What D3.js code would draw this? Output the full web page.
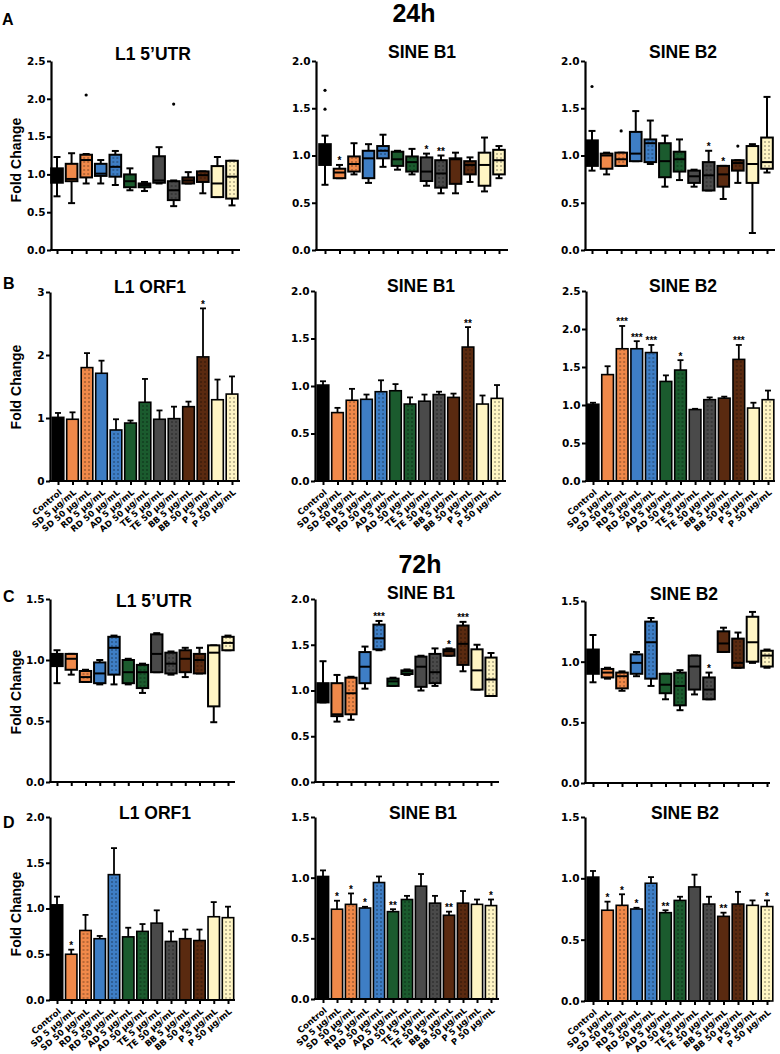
<!DOCTYPE html>
<html>
<head>
<meta charset="utf-8">
<script src="https://cdn.jsdelivr.net/npm/d3@7"></script>
<style>
  body { margin: 0; background: #fff; }
  svg text { fill: #000; }
</style>
</head>
<body>
<svg id="fig" width="780" height="1054"></svg>
<script>
// ---------- data ----------
const categories = ["Control", "SD 5 µg/mL", "SD 50 µg/mL", "RD 5 µg/mL", "RD 50 µg/mL",
  "AD 5 µg/mL", "AD 50 µg/mL", "TE 5 µg/mL", "TE 50 µg/mL", "BB 5 µg/mL", "BB 50 µg/mL",
  "P 5 µg/mL", "P 50 µg/mL"];

// box rows: [min, q1, median, q3, max]
const a1Box = [[0.71,0.89,0.97,1.08,1.23],[0.62,0.91,0.94,1.14,1.28],[0.88,0.96,1.19,1.26,1.27],
  [0.88,0.98,1.01,1.14,1.19],[0.86,0.97,1.10,1.26,1.31],[0.79,0.83,0.91,1.00,1.08],
  [0.78,0.83,0.86,0.88,0.90],[0.88,0.89,0.92,1.24,1.36],[0.58,0.66,0.79,0.91,0.92],
  [0.88,0.88,0.92,0.96,1.03],[0.75,0.90,0.99,1.04,1.04],[0.70,0.70,0.88,1.11,1.23],
  [0.59,0.68,0.97,1.18,1.18]];
const a1Out = [[2, 2.05], [8, 1.93]];
const a1Stars = ["","","","","","","","","","","","",""];

const a2Box = [[0.69,0.90,1.00,1.12,1.21],[0.76,0.76,0.82,0.86,0.90],[0.80,0.83,0.91,0.99,1.13],
  [0.71,0.76,0.97,1.05,1.12],[0.88,0.97,1.05,1.10,1.22],[0.85,0.89,0.96,1.04,1.05],
  [0.80,0.83,0.93,0.99,1.07],[0.68,0.73,0.83,0.98,1.02],[0.60,0.66,0.81,0.95,1.00],
  [0.60,0.70,0.96,0.97,1.03],[0.72,0.80,0.90,0.94,0.98],[0.62,0.68,0.90,1.03,1.19],
  [0.76,0.80,0.95,1.06,1.10]];
const a2Out = [[0, 1.69], [0, 1.49]];
const a2Stars = ["","*","","","","","","*","**","","","",""];

const a3Box = [[0.84,0.89,1.02,1.16,1.26],[0.80,0.86,1.00,1.02,1.03],[0.89,0.89,0.96,1.03,1.03],
  [0.94,0.94,1.02,1.25,1.47],[0.91,0.93,1.13,1.17,1.37],[0.67,0.77,0.94,1.13,1.21],
  [0.74,0.83,0.96,1.04,1.17],[0.67,0.71,0.78,0.84,0.85],[0.63,0.63,0.79,0.93,1.05],
  [0.54,0.67,0.80,0.89,0.89],[0.71,0.84,0.92,0.95,0.95],[0.18,0.71,0.91,1.10,1.12],
  [0.82,0.86,0.93,1.19,1.62]];
const a3Out = [[0, 1.73], [2, 1.26], [10, 1.10]];
const a3Stars = ["","","","","","","","","*","*","","",""];

// bar rows: mean and SEM
const b1Mean = [1.01,0.98,1.80,1.71,0.81,0.92,1.25,0.98,0.99,1.18,1.97,1.29,1.38];
const b1Sem  = [0.07,0.11,0.23,0.20,0.17,0.04,0.37,0.14,0.19,0.08,0.77,0.32,0.28];
const b1Stars = ["","","","","","","","","","","*","",""];

const b2Mean = [1.01,0.72,0.85,0.86,0.94,0.95,0.81,0.84,0.91,0.88,1.41,0.81,0.87];
const b2Sem  = [0.04,0.05,0.12,0.05,0.12,0.07,0.07,0.07,0.03,0.04,0.21,0.09,0.14];
const b2Stars = ["","","","","","","","","","","**","",""];

const b3Mean = [1.01,1.40,1.74,1.74,1.69,1.31,1.46,0.94,1.07,1.09,1.60,0.96,1.07];
const b3Sem  = [0.02,0.11,0.30,0.10,0.10,0.08,0.13,0.01,0.03,0.02,0.19,0.07,0.12];
const b3Stars = ["","","***","***","***","","*","","","","***","",""];

const c1Box = [[0.81,0.95,1.01,1.05,1.08],[0.88,0.92,1.01,1.05,1.05],[0.82,0.82,0.86,0.91,0.92],
  [0.80,0.81,0.89,0.98,1.00],[0.80,0.88,1.10,1.19,1.20],[0.80,0.81,0.90,1.00,1.01],
  [0.73,0.77,0.90,0.96,0.97],[0.90,0.90,1.05,1.21,1.22],[0.88,0.89,0.97,1.06,1.07],
  [0.86,0.90,1.01,1.08,1.10],[0.89,0.89,1.00,1.05,1.10],[0.49,0.62,1.06,1.12,1.12],
  [1.08,1.08,1.14,1.19,1.20]];
const c1Out = [];
const c1Stars = ["","","","","","","","","","","","",""];

const c2Box = [[0.87,0.87,0.97,1.08,1.32],[0.66,0.72,0.74,1.08,1.17],[0.68,0.74,0.97,1.14,1.15],
  [1.02,1.08,1.26,1.42,1.48],[1.44,1.45,1.57,1.72,1.76],[1.05,1.05,1.10,1.13,1.14],
  [1.17,1.18,1.21,1.22,1.23],[1.00,1.04,1.26,1.37,1.38],[1.05,1.08,1.20,1.40,1.46],
  [1.38,1.38,1.43,1.45,1.46],[1.21,1.28,1.51,1.71,1.75],[1.01,1.01,1.22,1.45,1.50],
  [0.94,0.94,1.12,1.36,1.41]];
const c2Out = [];
const c2Stars = ["","","","","***","","","","","*","***","",""];

const c3Box = [[0.83,0.90,1.04,1.10,1.22],[0.86,0.87,0.91,0.94,0.95],[0.76,0.78,0.88,0.91,0.92],
  [0.88,0.90,0.99,1.06,1.08],[0.80,0.86,1.16,1.33,1.36],[0.69,0.74,0.81,0.90,0.90],
  [0.60,0.64,0.80,0.91,0.93],[0.73,0.77,0.96,1.05,1.05],[0.69,0.69,0.77,0.87,0.91],
  [1.08,1.08,1.15,1.25,1.28],[0.95,0.95,0.99,1.19,1.24],[0.99,1.00,1.16,1.37,1.41],
  [0.95,0.96,1.05,1.09,1.10]];
const c3Out = [];
const c3Stars = ["","","","","","","","","*","","","",""];

const d1Mean = [1.04,0.50,0.76,0.67,1.37,0.69,0.75,0.84,0.64,0.67,0.65,0.91,0.90];
const d1Sem  = [0.09,0.05,0.17,0.03,0.29,0.10,0.08,0.14,0.11,0.10,0.12,0.16,0.12];
const d1Stars = ["","*","","","","","","","","","","",""];

const d2Mean = [1.01,0.74,0.78,0.75,0.96,0.72,0.82,0.93,0.79,0.69,0.79,0.78,0.77];
const d2Sem  = [0.05,0.07,0.09,0.01,0.05,0.02,0.03,0.10,0.06,0.03,0.10,0.04,0.05];
const d2Stars = ["","*","*","*","","**","","","","**","","","*"];

const d3Mean = [1.01,0.74,0.78,0.75,0.96,0.72,0.82,0.93,0.79,0.69,0.79,0.78,0.77];
const d3Sem  = [0.05,0.07,0.09,0.01,0.05,0.02,0.03,0.10,0.06,0.03,0.10,0.04,0.05];
const d3Stars = ["","*","*","*","","**","","","","**","","","*"];

// ---------- styles ----------
const fillColor = ["#000000","#F0894A","#F0894A","#3E7EC5","#3E7EC5","#1B5B2E","#1B5B2E",
  "#4A4A4A","#4A4A4A","#5A2A10","#5A2A10","#FFF5C4","#FFF5C4"];
const dotted = categories.map(c => c.indexOf(" 50 ") > 0);

const FONT = "'Liberation Sans', Arial, sans-serif";
const NUMFONT = "'DejaVu Sans', sans-serif";

const svg = d3.select("#fig");

svg.append("defs").append("pattern")
    .attr("id", "dots")
    .attr("width", 4)
    .attr("height", 4)
    .attr("patternUnits", "userSpaceOnUse")
  .append("circle")
    .attr("cx", 2)
    .attr("cy", 2)
    .attr("r", 0.8)
    .attr("fill", "rgba(0,0,0,0.55)");

// panel layout
const panels = [
  {type:"box", box:a1Box, out:a1Out, stars:a1Stars, max:2.5, step:0.5, title:"L1 5’UTR",
   ax:51, xa:57, xb:232, xe:240, y0:250, yt:61, tx:153, ty:60, labels:false},
  {type:"box", box:a2Box, out:a2Out, stars:a2Stars, max:2.0, step:0.5, title:"SINE B1",
   ax:316, xa:325, xb:499, xe:508, y0:250, yt:61, tx:422, ty:58, labels:false},
  {type:"box", box:a3Box, out:a3Out, stars:a3Stars, max:2.0, step:0.5, title:"SINE B2",
   ax:585, xa:592, xb:767, xe:775, y0:250, yt:61, tx:683, ty:58, labels:false},

  {type:"bar", mean:b1Mean, sem:b1Sem, stars:b1Stars, max:3, step:1, title:"L1 ORF1",
   ax:50, xa:58, xb:232, xe:240, y0:481, yt:292, tx:150, ty:293, labels:true},
  {type:"bar", mean:b2Mean, sem:b2Sem, stars:b2Stars, max:2.0, step:0.5, title:"SINE B1",
   ax:315, xa:323, xb:497, xe:506, y0:481, yt:291, tx:421, ty:292, labels:true},
  {type:"bar", mean:b3Mean, sem:b3Sem, stars:b3Stars, max:2.5, step:0.5, title:"SINE B2",
   ax:586, xa:593, xb:768, xe:775, y0:481, yt:291, tx:683, ty:292, labels:true},

  {type:"box", box:c1Box, out:c1Out, stars:c1Stars, max:1.5, step:0.5, title:"L1 5’UTR",
   ax:50, xa:57, xb:228, xe:235, y0:782, yt:599, tx:154, ty:607, labels:false},
  {type:"box", box:c2Box, out:c2Out, stars:c2Stars, max:2.0, step:0.5, title:"SINE B1",
   ax:315, xa:323, xb:491, xe:499, y0:782, yt:599, tx:421, ty:599, labels:false},
  {type:"box", box:c3Box, out:c3Out, stars:c3Stars, max:1.5, step:0.5, title:"SINE B2",
   ax:585, xa:593, xb:767, xe:770, y0:783, yt:601, tx:684, ty:600, labels:false},

  {type:"bar", mean:d1Mean, sem:d1Sem, stars:d1Stars, max:2.0, step:0.5, title:"L1 ORF1",
   ax:50, xa:57, xb:228, xe:235, y0:1000, yt:817, tx:155, ty:819, labels:true},
  {type:"bar", mean:d2Mean, sem:d2Sem, stars:d2Stars, max:1.5, step:0.5, title:"SINE B1",
   ax:315, xa:323, xb:491, xe:499, y0:999, yt:817, tx:423, ty:819, labels:true},
  {type:"bar", mean:d3Mean, sem:d3Sem, stars:d3Stars, max:1.5, step:0.5, title:"SINE B2",
   ax:585, xa:593, xb:767, xe:770, y0:1001, yt:817, tx:685, ty:819, labels:true}
];

function drawPanel(p){
    const g = svg.append("g");
    const y = d3.scaleLinear().domain([0, p.max]).range([p.y0, p.yt]);
    const x = d3.scalePoint().domain(d3.range(categories.length)).range([p.xa, p.xb]);
    const w = x.step() * 0.8;
    let tops;

    if (p.type == "box"){
        const boxes = g.selectAll("g.box").data(p.box).enter().append("g")
            .attr("transform", (d, i) => `translate(${x(i)},0)`);

        // whiskers
        boxes.append("line")
            .attr("y1", d => y(d[0])).attr("y2", d => y(d[4]))
            .attr("stroke", "#000").attr("stroke-width", 2);
        [0, 4].forEach(k => {
            boxes.append("line")
                .attr("x1", -3.5).attr("x2", 3.5)
                .attr("y1", d => y(d[k])).attr("y2", d => y(d[k]))
                .attr("stroke", "#000").attr("stroke-width", 2);
        });

        boxes.append("rect")
            .attr("x", -w / 2).attr("width", w)
            .attr("y", d => y(d[3]))
            .attr("height", d => Math.max(y(d[1]) - y(d[3]), 0.5))
            .attr("fill", (d, i) => fillColor[i])
            .attr("stroke", "#000").attr("stroke-width", 2);

        boxes.filter((d, i) => dotted[i]).append("rect")
            .attr("x", -w / 2 + 1).attr("width", w - 2)
            .attr("y", d => y(d[3]) + 1)
            .attr("height", d => Math.max(y(d[1]) - y(d[3]) - 2, 0))
            .attr("fill", "url(#dots)");

        boxes.append("line")
            .attr("x1", -w / 2).attr("x2", w / 2)
            .attr("y1", d => y(d[2])).attr("y2", d => y(d[2]))
            .attr("stroke", "#000").attr("stroke-width", 2);

        g.selectAll("circle.out").data(p.out).enter().append("circle")
            .attr("cx", d => x(d[0])).attr("cy", d => y(d[1]))
            .attr("r", 1.6).attr("fill", "#000");

        tops = p.box.map(d => d[4]);
    } else {
        const bars = g.selectAll("g.bar").data(p.mean).enter().append("g")
            .attr("transform", (d, i) => `translate(${x(i)},0)`);

        bars.append("line")
            .attr("y1", d => y(d))
            .attr("y2", (d, i) => y(d + p.sem[i]))
            .attr("stroke", "#000").attr("stroke-width", 1.8);
        bars.append("line")
            .attr("x1", -3).attr("x2", 3)
            .attr("y1", (d, i) => y(d + p.sem[i]))
            .attr("y2", (d, i) => y(d + p.sem[i]))
            .attr("stroke", "#000").attr("stroke-width", 1.8);

        bars.append("rect")
            .attr("x", -w / 2).attr("width", w)
            .attr("y", d => y(d))
            .attr("height", d => p.y0 - y(d))
            .attr("fill", (d, i) => fillColor[i])
            .attr("stroke", "#000").attr("stroke-width", 1.6);

        bars.filter((d, i) => dotted[i]).append("rect")
            .attr("x", -w / 2 + 1).attr("width", w - 2)
            .attr("y", d => y(d) + 1)
            .attr("height", d => p.y0 - y(d) - 1)
            .attr("fill", "url(#dots)");

        tops = p.mean.map((d, i) => d + p.sem[i]);
    }

    // significance stars
    g.selectAll("text.star").data(p.stars).enter().append("text")
        .attr("x", (d, i) => x(i))
        .attr("y", (d, i) => y(tops[i]) - 0.5)
        .attr("text-anchor", "middle")
        .attr("fill", "#000")
        .attr("font-family", FONT)
        .attr("font-weight", "bold")
        .attr("font-size", 10)
        .text(d => d);

    // y axis
    const yAxis = d3.axisLeft(y)
        .tickValues(d3.range(0, p.max + 0.001, p.step))
        .tickFormat(p.step < 1 ? d3.format(".1f") : d3.format("d"))
        .tickSize(4).tickSizeOuter(0).tickPadding(1.5);
    const ya = g.append("g").attr("transform", `translate(${p.ax},0)`).call(yAxis);
    ya.select(".domain").attr("stroke-width", 2.2);
    ya.selectAll(".tick line").attr("stroke-width", 2);
    ya.selectAll("text")
        .attr("font-family", NUMFONT)
        .attr("font-weight", "bold")
        .attr("font-size", 10.5);

    // x axis
    const xAxis = d3.axisBottom(x)
        .tickSize(4).tickSizeOuter(0)
        .tickFormat(i => p.labels ? categories[i] : "");
    const xa = g.append("g").attr("transform", `translate(0,${p.y0})`).call(xAxis);
    xa.select(".domain")
        .attr("d", `M${p.ax - 1},0H${p.xe}`)
        .attr("stroke-width", 2.2);
    xa.selectAll(".tick line").attr("stroke-width", 2);
    xa.selectAll("text")
        .attr("x", 0).attr("y", 0).attr("dy", "0.35em")
        .attr("transform", "translate(2,10) rotate(-40)")
        .attr("text-anchor", "end")
        .attr("font-family", NUMFONT)
        .attr("font-weight", "bold")
        .attr("font-size", 8.5);

    // title
    svg.append("text")
        .attr("x", p.tx).attr("y", p.ty)
        .attr("text-anchor", "middle")
        .attr("font-family", FONT)
        .attr("font-weight", "bold")
        .attr("font-size", 17.5)
        .text(p.title);
}

panels.forEach(drawPanel);

// row letters, time headers, y labels
const rowLetters = [["A", 2, 25], ["B", 3, 289], ["C", 3, 602], ["D", 3, 828]];
svg.selectAll("text.letter").data(rowLetters).enter().append("text")
    .attr("x", d => d[1]).attr("y", d => d[2])
    .attr("font-family", FONT).attr("font-weight", "bold").attr("font-size", 16)
    .text(d => d[0]);

const timeHeaders = [["24h", 414, 22], ["72h", 420, 573]];
svg.selectAll("text.time").data(timeHeaders).enter().append("text")
    .attr("x", d => d[1]).attr("y", d => d[2])
    .attr("text-anchor", "middle")
    .attr("font-family", FONT).attr("font-weight", "bold").attr("font-size", 25)
    .text(d => d[0]);

const yLabelCenters = [160, 387, 692, 914];
svg.selectAll("text.ylab").data(yLabelCenters).enter().append("text")
    .attr("transform", d => `translate(16,${d}) rotate(-90)`)
    .attr("text-anchor", "middle")
    .attr("dominant-baseline", "central")
    .attr("font-family", FONT).attr("font-weight", "bold").attr("font-size", 14)
    .text("Fold Change");
</script>
</body>
</html>
